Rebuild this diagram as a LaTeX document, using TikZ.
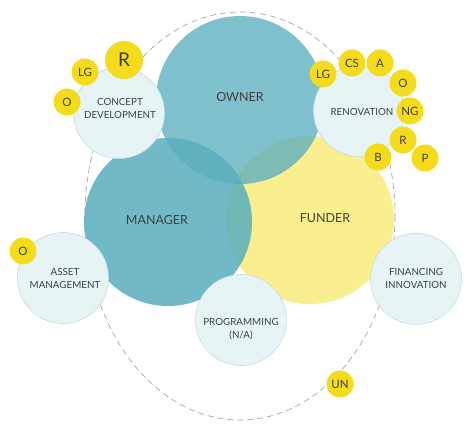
\documentclass[tikz,border=0pt]{standalone}
\usepackage{fontspec}
\setmainfont{Lato}
\definecolor{blueC}{HTML}{5AAEBD}
\definecolor{yellowBig}{HTML}{F9EF8E}
\definecolor{lightC}{HTML}{E6F4F6}
\definecolor{lightEdge}{HTML}{C2DDE2}
\definecolor{yellowS}{HTML}{F4DC1D}
\definecolor{textC}{HTML}{404040}
\definecolor{dashC}{HTML}{9A9A9A}
\tikzset{
  bigblue/.style={circle, fill=blueC, fill opacity=0.78, draw=none, inner sep=0pt, minimum size=168pt},
  bigyellow/.style={circle, fill=yellowBig, draw=none, inner sep=0pt, minimum size=168pt},
  maintext/.style={text=textC, font=\fontsize{12.5}{15}\selectfont, align=center},
  smallc/.style={circle, fill=lightC, draw=lightEdge, line width=0.6pt, inner sep=0pt, minimum size=91pt},
  smalltext/.style={text=textC, font=\fontsize{9.8}{13}\selectfont, align=center, inner sep=0pt},
  ybub/.style={circle, fill=yellowS, draw=none, inner sep=0pt, minimum size=27pt, text=textC, font=\fontsize{11.5}{13}\selectfont},
  ybig/.style={ybub, minimum size=38pt, font=\fontsize{19}{21}\selectfont},
  link/.style={draw=dashC!80, line width=0.5pt},
  orbit/.style={draw=dashC, line width=0.6pt, dash pattern=on 6pt off 4pt}
}
\begin{document}
\begin{tikzpicture}[x=1pt,y=-1pt]
\useasboundingbox (0,0) rectangle (472,435);
% orbit
\coordinate (oc) at (240,216);
\draw[orbit] (oc) ellipse [x radius=155, y radius=204];
% big circles
\node[bigyellow] (funder) at (310,220) {};
\node[bigblue] (owner) at (240,100) {};
\node[bigblue, fill opacity=0.86] (manager) at (168,222) {};
\node[maintext] (ownerT) at (240,97) {OWNER};
\node[maintext] (managerT) at (157,220) {MANAGER};
\node[maintext] (funderT) at (325,218) {FUNDER};
% small circles
\node[smallc] (concept) at (119,113) {};
\node[smalltext] (conceptT) at (120,108) {CONCEPT\\DEVELOPMENT};
\node[smallc] (renov) at (359,111) {};
\node[smalltext] (renovT) at (362,112) {RENOVATION};
\node[smallc] (asset) at (63,278) {};
\node[smalltext] (assetT) at (65,278) {ASSET\\MANAGEMENT};
\node[smallc] (fin) at (416,279) {};
\node[smalltext] (finT) at (416,278) {FINANCING\\INNOVATION};
\node[smallc] (prog) at (241,320) {};
\node[smalltext] (progT) at (241,329) {PROGRAMMING\\(N/A)};
% concept bubbles
\node[ybub] (cO) at (67,102) {O};
\node[ybub] (cLG) at (85,72) {LG};
\node[ybig] (cR) at (124,60) {R};
% renovation bubbles
\node[ybub] (rR) at (403,140) {R};
\node[ybub] (rP) at (425,158) {P};
\draw[link] (rR) -- (rP);
\node[ybub] (rLG) at (323,74) {LG};
\node[ybub] (rCS) at (352,63) {CS};
\node[ybub] (rA) at (380,63) {A};
\node[ybub] (rO) at (403,83) {O};
\node[ybub] (rNG) at (410,111) {NG};
\node[ybub] (rB) at (378,157) {B};
% asset bubble
\node[ybub] (aO) at (23,251) {O};
% UN bubble
\node[ybub] (un) at (340,384) {UN};
\end{tikzpicture}
\end{document}
